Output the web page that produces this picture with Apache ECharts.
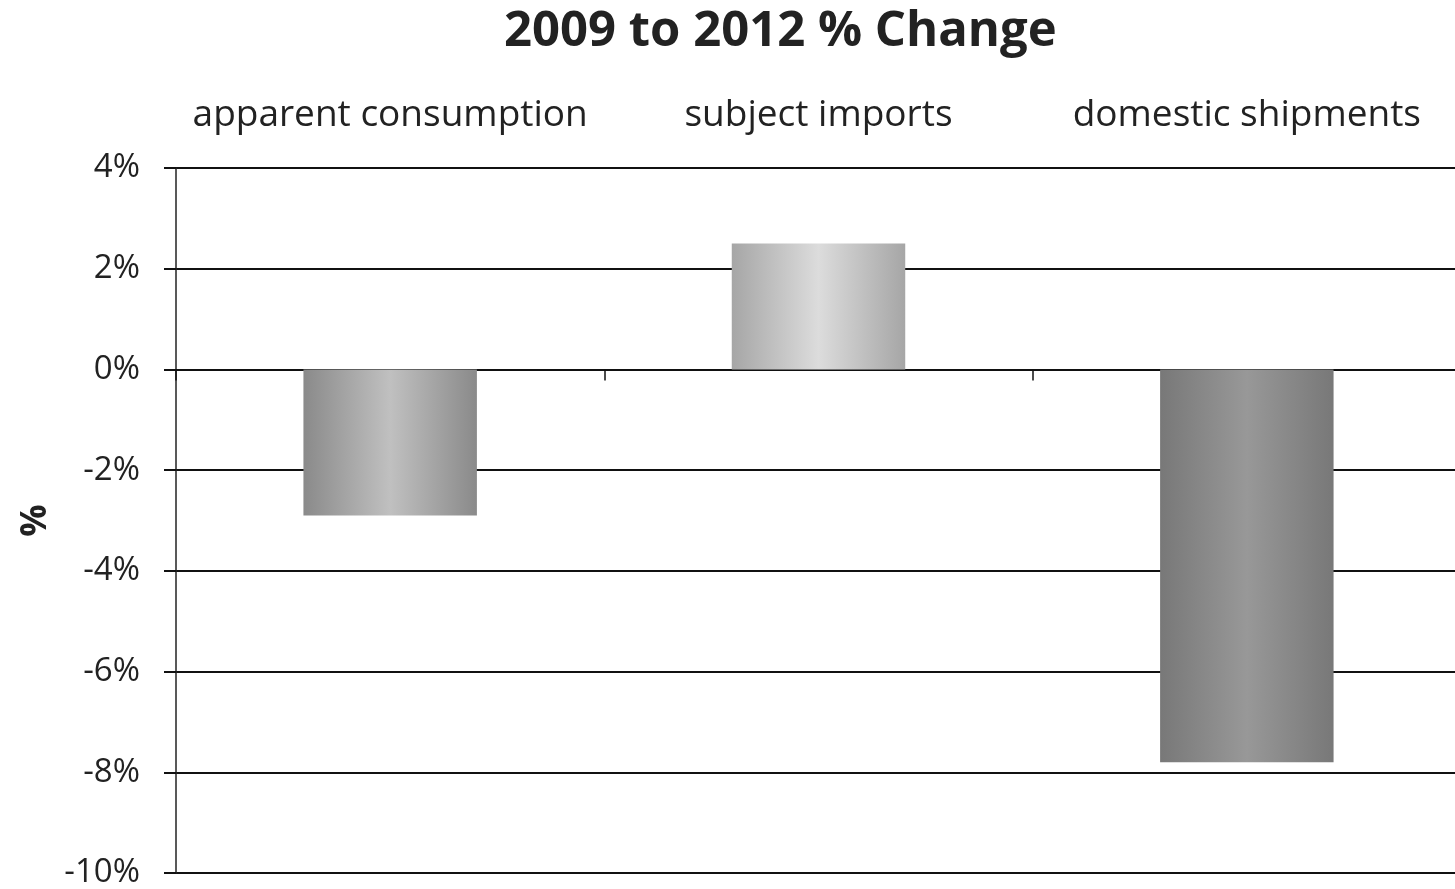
<!DOCTYPE html>
<html><head><meta charset="utf-8">
<script src="https://cdn.jsdelivr.net/npm/echarts@6/dist/echarts.min.js"></script>
<style>html,body{margin:0;padding:0;background:#fff}#c{width:1455px;height:889px}</style>
</head><body><div id="c"></div>
<script>
const categories = ['apparent consumption', 'subject imports', 'domestic shipments'];
const values = [-2.9, 2.5, -7.8];
const yTicks = {min: -10, max: 4, interval: 2};

function grad(edge, mid) {
  return new echarts.graphic.LinearGradient(0, 0, 1, 0, [
    {offset: 0, color: edge}, {offset: 0.5, color: mid}, {offset: 1, color: edge}
  ]);
}
const barColors = [grad('#8a8a8a', '#c0c0c0'), grad('#a6a6a6', '#dcdcdc'), grad('#787878', '#989898')];

const font = '"Open Sans", "Noto Sans", sans-serif';
const chart = echarts.init(document.getElementById('c'));
chart.setOption({
  animation: false,
  backgroundColor: '#fff',
  title: {
    text: '2009 to 2012 % Change', left: 499, top: 3,
    textStyle: {fontFamily: font, fontWeight: 'bold', fontSize: 49, color: '#222'}
  },
  grid: {left: 176, right: -6, top: 168, bottom: 16, containLabel: false, outerBoundsMode: 'none'},
  xAxis: [{
    type: 'category', data: categories, position: 'top',
    axisLine: {show: false, onZero: false}, axisTick: {show: false},
    axisLabel: {fontFamily: font, fontSize: 37, color: '#222', margin: 34, interval: 0}
  }, {
    type: 'category', data: categories, position: 'bottom',
    axisLine: {show: true, onZero: true, lineStyle: {color: '#111', width: 2}},
    axisTick: {show: true, length: 11, lineStyle: {color: '#111', width: 1.5}},
    axisLabel: {show: false}
  }],
  yAxis: {
    type: 'value', min: yTicks.min, max: yTicks.max, interval: yTicks.interval,
    name: '%', nameLocation: 'middle', nameGap: 121, nameRotate: 90,
    nameTextStyle: {fontFamily: font, fontWeight: 'bold', fontSize: 36, color: '#222'},
    axisLine: {show: true, lineStyle: {color: '#222', width: 1.5}},
    axisTick: {show: true, length: 12, lineStyle: {color: '#111', width: 2}},
    splitLine: {show: true, lineStyle: {color: '#111', width: 2}},
    axisLabel: {fontFamily: font, fontSize: 33, color: '#222', margin: 36, formatter: '{value}%'}
  },
  series: [{
    type: 'bar', xAxisIndex: 0, barWidth: '40.5%',
    data: values.map((v, i) => ({value: v, itemStyle: {color: barColors[i]}}))
  }]
});
</script></body></html>
